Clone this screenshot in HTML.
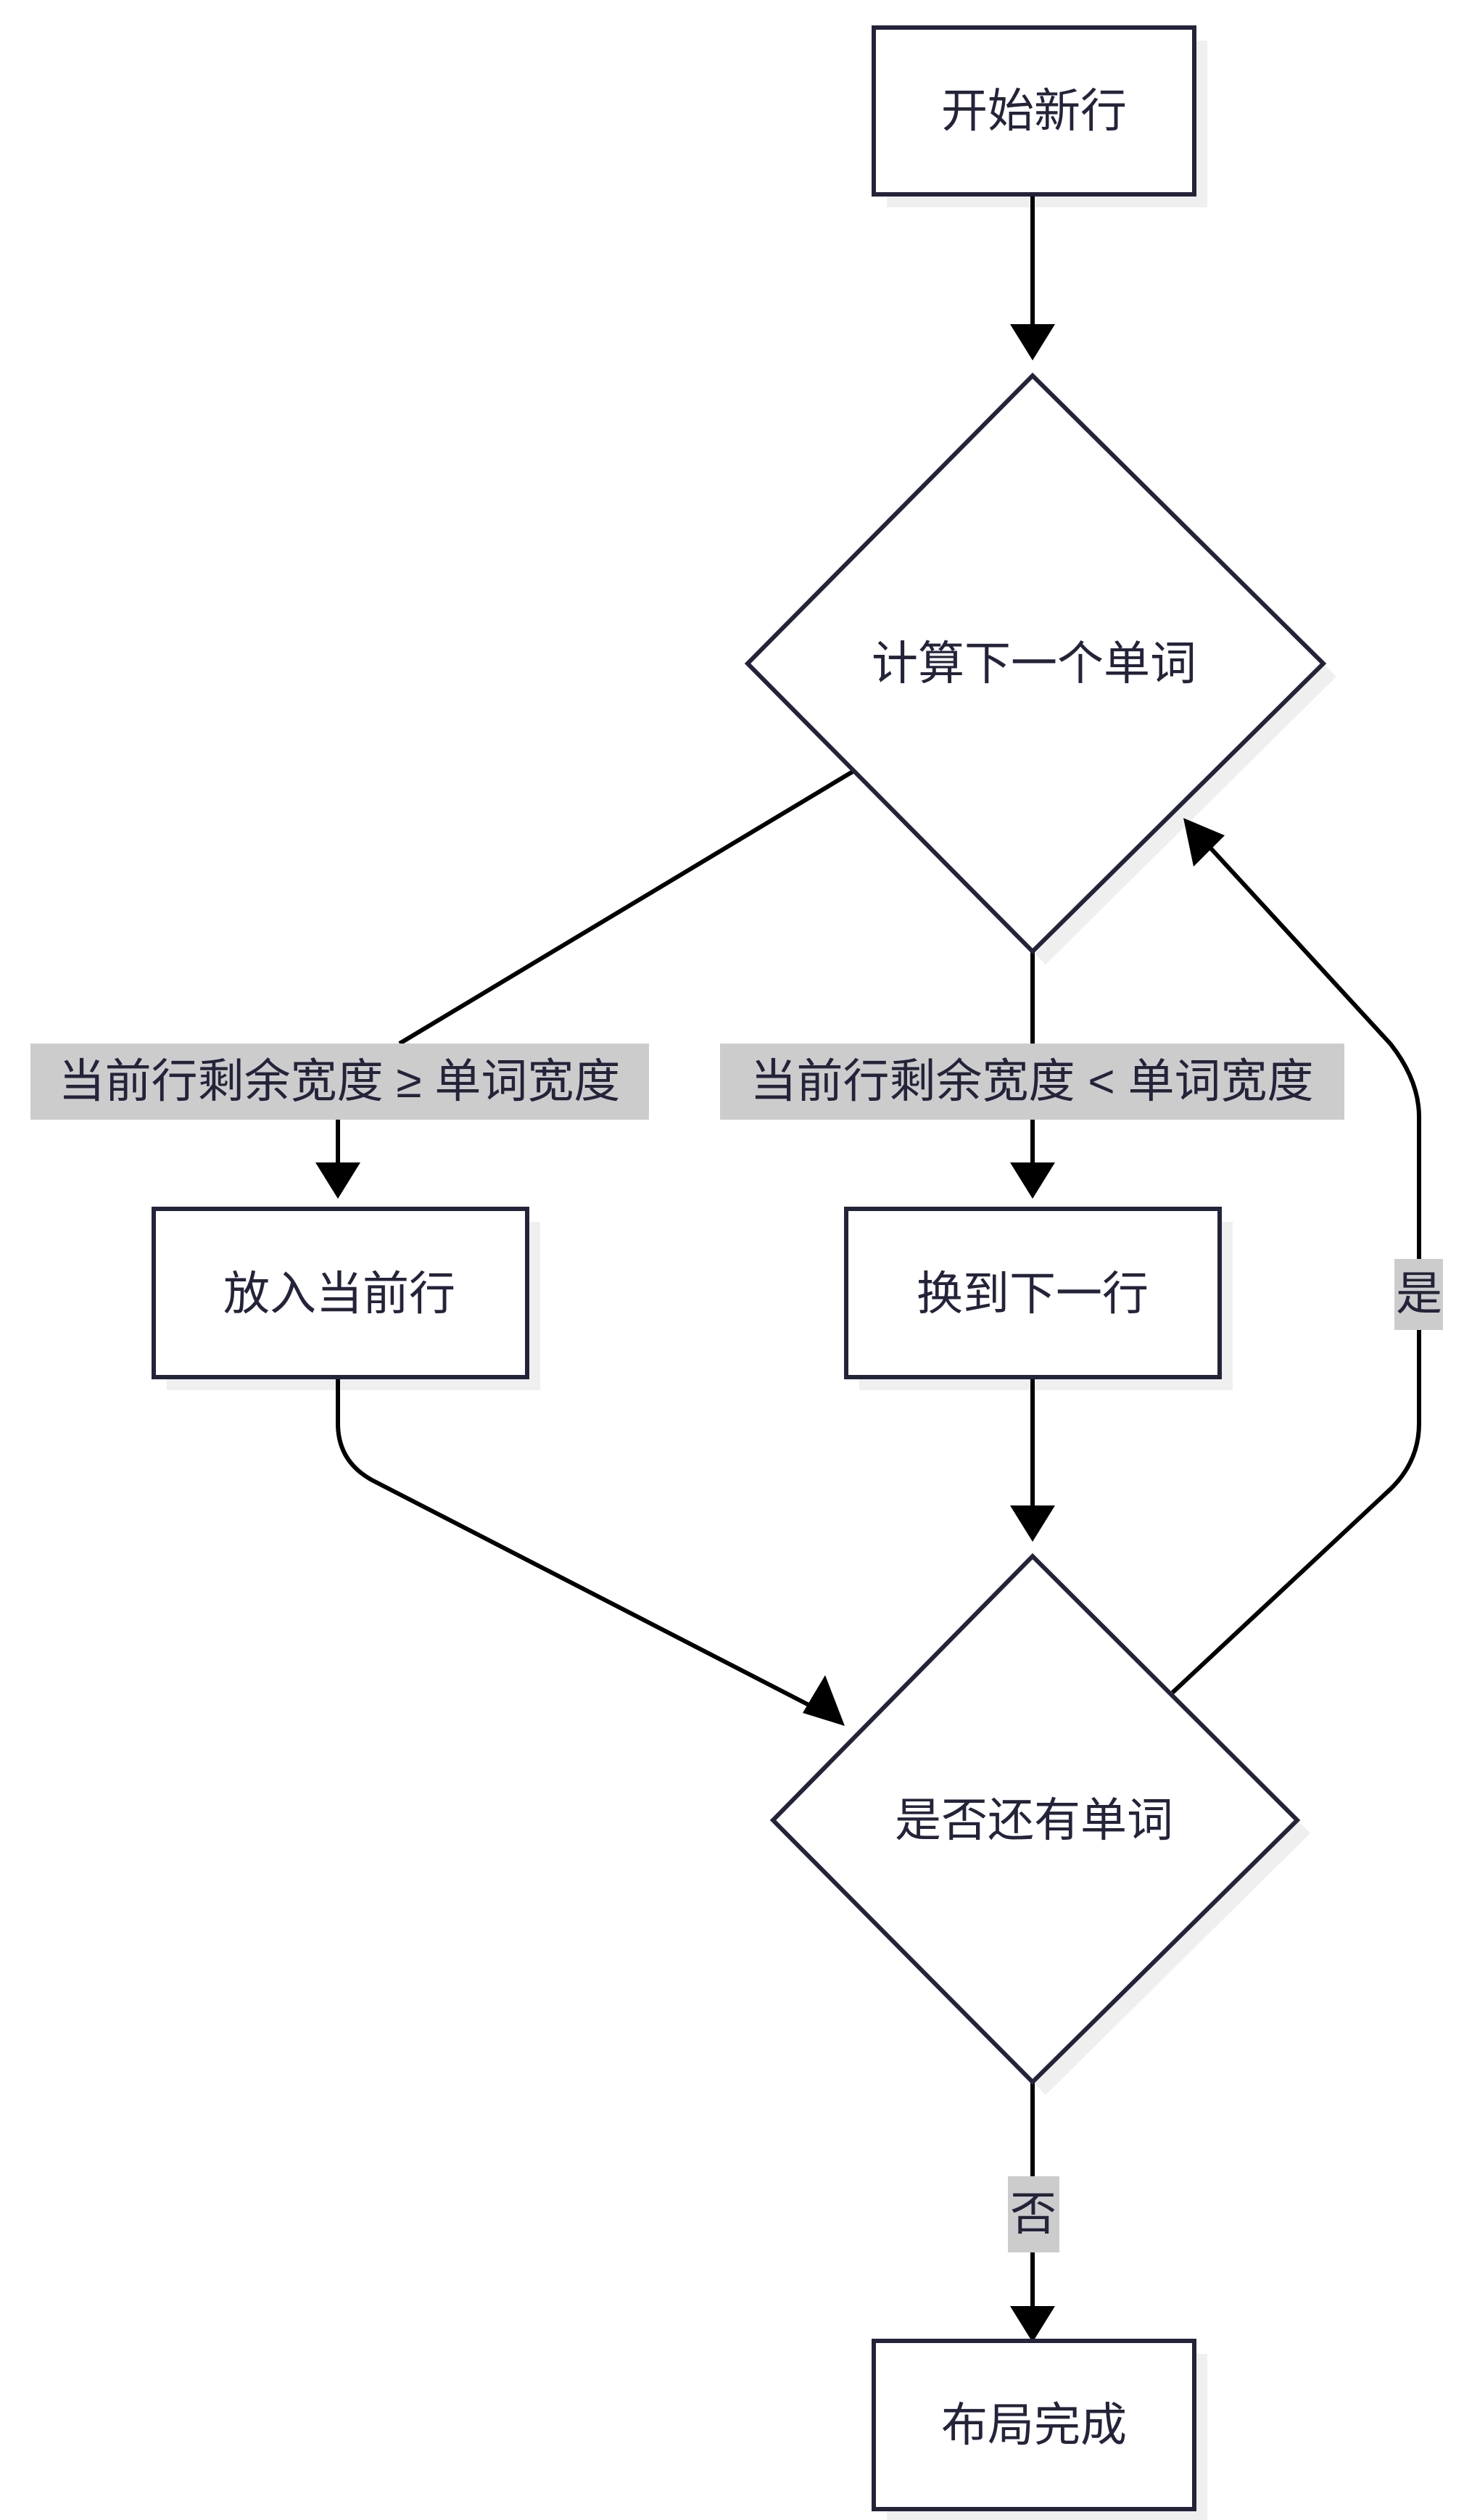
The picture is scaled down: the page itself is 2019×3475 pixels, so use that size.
<!DOCTYPE html>
<html><head><meta charset="utf-8"><style>
html,body{margin:0;padding:0;background:#fff;}
svg{display:block;}
text{font-family:"Liberation Sans","Noto Sans CJK SC",sans-serif;fill:#23233a;}
</style></head><body>
<svg width="2019" height="3475" viewBox="0 0 2019 3475" xmlns="http://www.w3.org/2000/svg">
<defs>
<marker id="ah" markerWidth="10" markerHeight="10" refX="9" refY="5" orient="auto" markerUnits="userSpaceOnUse" viewBox="0 0 10 10">
</marker>
</defs>
<!-- shadows -->
<g fill="#efefef">
<rect x="1223" y="56" width="442" height="230"/>
<rect x="230" y="1685" width="515" height="232"/>
<rect x="1185" y="1685" width="515" height="232"/>
<rect x="1223" y="3246" width="442" height="232"/>
<polygon points="1442,536 1843,933 1442,1330 1049,933"/>
<polygon points="1442,2164 1807,2528 1442,2889 1084,2528"/>
</g>
<!-- edges -->
<g stroke="#000" stroke-width="6" fill="none">
<line x1="1424" y1="268" x2="1424" y2="450"/>
<line x1="1176" y1="1064" x2="551" y2="1439"/>
<line x1="466" y1="1544" x2="466" y2="1605"/>
<line x1="1424" y1="1312" x2="1424" y2="1439"/>
<line x1="1424" y1="1544" x2="1424" y2="1605"/>
<line x1="1424" y1="1899" x2="1424" y2="2078"/>
<path d="M466,1899 L466,1963 Q466,2015 513,2041 L1125,2356"/>
<path d="M1617,2334 L1918,2053 Q1957,2015 1957,1963 L1957,1540 Q1957,1490 1918,1440 L1670,1170"/>
<line x1="1424" y1="2871" x2="1424" y2="3182"/>
</g>
<!-- arrowheads -->
<g fill="#000">
<polygon points="1393,447 1455,447 1424,497"/>
<polygon points="435,1603 497,1603 466,1653"/>
<polygon points="1393,1603 1455,1603 1424,1653"/>
<polygon points="1393,2076 1455,2076 1424,2126"/>
<polygon points="1393,3180 1455,3180 1424,3230"/>
<polygon points="1165,2380 1107,2362 1138,2310"/>
<polygon points="1632,1128 1689,1152 1646,1195"/>
</g>
<!-- nodes -->
<g fill="#fff" stroke="#23233a" stroke-width="6">
<rect x="1205" y="38" width="442" height="230"/>
<polygon points="1424,518 1825,915 1424,1312 1031,915"/>
<rect x="212" y="1667" width="515" height="232"/>
<rect x="1167" y="1667" width="515" height="232"/>
<polygon points="1424,2146 1789,2510 1424,2871 1066,2510"/>
<rect x="1205" y="3228" width="442" height="232"/>
</g>
<!-- labels bg -->
<g fill="#cccccc">
<rect x="42" y="1439" width="853" height="105"/>
<rect x="993" y="1439" width="861" height="105"/>
<rect x="1923" y="1736" width="67" height="98"/>
<rect x="1390" y="3001" width="71" height="105"/>
</g>
<g font-size="64" text-anchor="middle">
<text x="1426" y="175">开始新行</text>
<text x="1426" y="937">计算下一个单词</text>
<text x="468" y="1806">放入当前行</text>
<text x="1424" y="1806">换到下一行</text>
<text x="1426" y="2532">是否还有单词</text>
<text x="1426" y="3366">布局完成</text>
<text x="468" y="1513">当前行剩余宽度 ≥ 单词宽度</text>
<text x="1423" y="1513">当前行剩余宽度 &lt; 单词宽度</text>
<text x="1957" y="1806">是</text>
<text x="1425" y="3075">否</text>
</g>
</svg>
</body></html>
